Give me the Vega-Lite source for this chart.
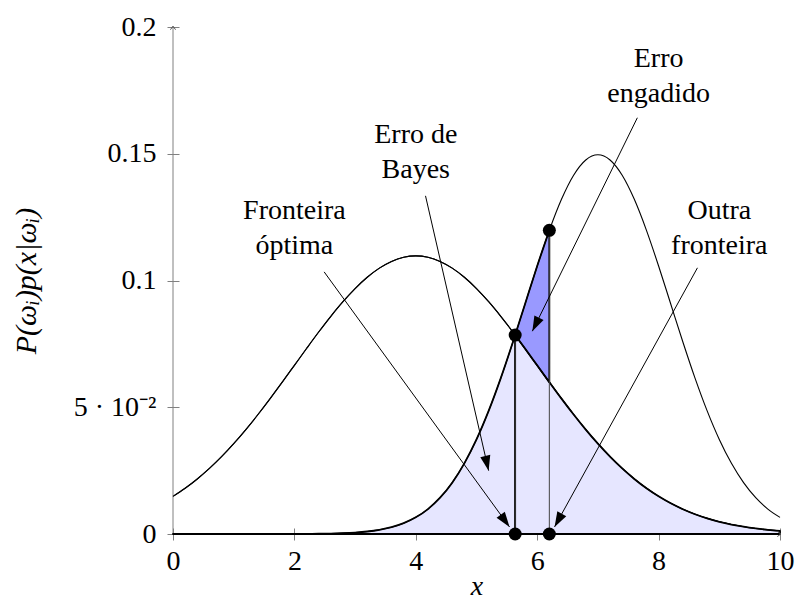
{
  "$schema": "https://vega.github.io/schema/vega-lite/v6.json",
  "width": 607,
  "height": 507,
  "autosize": {"type": "none"},
  "padding": {"left": 173, "top": 27, "right": 15, "bottom": 67},
  "background": "white",
  "config": {
    "view": {"stroke": null},
    "axis": {
      "labelFont": "Liberation Serif",
      "labelFontSize": 28,
      "labelColor": "black",
      "titleFont": "Liberation Serif",
      "titleFontSize": 28,
      "titleFontWeight": "normal",
      "titleFontStyle": "italic",
      "titleColor": "black",
      "tickColor": "#808080",
      "tickSize": 12,
      "tickWidth": 1,
      "domain": false,
      "grid": false,
      "offset": -6,
      "labelOverlap": false,
      "labelFlush": false,
      "labelBound": false
    }
  },
  "datasets": {
    "curves": [
      {"x": 0, "f1": 0.01485, "f2": 0},
      {"x": 0.2, "f1": 0.01804, "f2": 0},
      {"x": 0.4, "f1": 0.02171, "f2": 0},
      {"x": 0.6, "f1": 0.02586, "f2": 0},
      {"x": 0.8, "f1": 0.0305, "f2": 0},
      {"x": 1.0, "f1": 0.03562, "f2": 0},
      {"x": 1.2, "f1": 0.04118, "f2": 0},
      {"x": 1.4, "f1": 0.04713, "f2": 0},
      {"x": 1.6, "f1": 0.0534, "f2": 0.000003},
      {"x": 1.8, "f1": 0.05991, "f2": 0.00001},
      {"x": 2.0, "f1": 0.06654, "f2": 0.00003},
      {"x": 2.2, "f1": 0.07317, "f2": 0.00005},
      {"x": 2.4, "f1": 0.07967, "f2": 0.0001},
      {"x": 2.6, "f1": 0.08587, "f2": 0.00018},
      {"x": 2.8, "f1": 0.09164, "f2": 0.00033},
      {"x": 3.0, "f1": 0.09682, "f2": 0.00058},
      {"x": 3.2, "f1": 0.10128, "f2": 0.00099},
      {"x": 3.4, "f1": 0.10488, "f2": 0.00166},
      {"x": 3.6, "f1": 0.10754, "f2": 0.0027},
      {"x": 3.8, "f1": 0.10916, "f2": 0.00427},
      {"x": 4.0, "f1": 0.10971, "f2": 0.00657},
      {"x": 4.2, "f1": 0.10916, "f2": 0.00983},
      {"x": 4.4, "f1": 0.10754, "f2": 0.01431},
      {"x": 4.6, "f1": 0.10488, "f2": 0.02025},
      {"x": 4.8, "f1": 0.10128, "f2": 0.02787},
      {"x": 5.0, "f1": 0.09682, "f2": 0.0373},
      {"x": 5.2, "f1": 0.09164, "f2": 0.04857},
      {"x": 5.4, "f1": 0.08587, "f2": 0.0615},
      {"x": 5.6, "f1": 0.07967, "f2": 0.07575},
      {"x": 5.637, "f1": 0.07848, "f2": 0.07849},
      {"x": 5.8, "f1": 0.07317, "f2": 0.09074},
      {"x": 6.0, "f1": 0.06654, "f2": 0.10571},
      {"x": 6.2, "f1": 0.05991, "f2": 0.11979},
      {"x": 6.4, "f1": 0.0534, "f2": 0.13202},
      {"x": 6.6, "f1": 0.04713, "f2": 0.14152},
      {"x": 6.8, "f1": 0.04118, "f2": 0.14754},
      {"x": 7.0, "f1": 0.03562, "f2": 0.1496},
      {"x": 7.2, "f1": 0.0305, "f2": 0.14754},
      {"x": 7.4, "f1": 0.02586, "f2": 0.14152},
      {"x": 7.6, "f1": 0.02171, "f2": 0.13202},
      {"x": 7.8, "f1": 0.01804, "f2": 0.11979},
      {"x": 8.0, "f1": 0.01485, "f2": 0.10571},
      {"x": 8.2, "f1": 0.0121, "f2": 0.09074},
      {"x": 8.4, "f1": 0.00976, "f2": 0.07575},
      {"x": 8.6, "f1": 0.00779, "f2": 0.0615},
      {"x": 8.8, "f1": 0.00616, "f2": 0.04857},
      {"x": 9.0, "f1": 0.00482, "f2": 0.0373},
      {"x": 9.2, "f1": 0.00374, "f2": 0.02787},
      {"x": 9.4, "f1": 0.00287, "f2": 0.02025},
      {"x": 9.6, "f1": 0.00218, "f2": 0.01431},
      {"x": 9.8, "f1": 0.00164, "f2": 0.00983},
      {"x": 10.0, "f1": 0.00122, "f2": 0.00657}
    ],
    "frame": [
      {"axis": "y", "x0": 0, "y0": 0, "x1": 0, "y1": 0.2},
      {"axis": "x", "x0": 0, "y0": 0, "x1": 10, "y1": 0}
    ],
    "bounds": [
      {"x": 5.637, "bottom": 0, "top": 0.07848},
      {"x": 6.2, "bottom": 0, "top": 0.11979}
    ],
    "notes": [
      {"label": "Fronteira\nóptima", "tx": 2, "ty": 0.12, "x0": 2.49, "y0": 0.1034, "x1": 5.544, "y1": 0.0028},
      {"label": "Erro de\nBayes", "tx": 4, "ty": 0.15, "x0": 4.16, "y0": 0.1334, "x1": 5.2, "y1": 0.025},
      {"label": "Erro\nengadido", "tx": 8, "ty": 0.18, "x0": 7.65, "y0": 0.1642, "x1": 5.92, "y1": 0.08},
      {"label": "Outra\nfronteira", "tx": 9, "ty": 0.12, "x0": 8.64, "y0": 0.105, "x1": 6.286, "y1": 0.0028}
    ]
  },
  "layer": [
    {
      "data": {"name": "curves"},
      "mark": {"type": "line", "color": "black", "strokeWidth": 1.1, "interpolate": "monotone"},
      "encoding": {
        "x": {
          "field": "x", "type": "quantitative",
          "scale": {"domain": [0, 10], "nice": false, "zero": false},
          "axis": {"values": [0, 2, 4, 6, 8, 10], "format": "d", "labelPadding": 7, "title": "x", "titlePadding": -3}
        },
        "y": {
          "field": "f1", "type": "quantitative",
          "scale": {"domain": [0, 0.2], "nice": false},
          "axis": {
            "values": [0, 0.05, 0.1, 0.15, 0.2],
            "labelExpr": "datum.value == 0.05 ? '5 · 10⁻²' : format(datum.value, '~g')",
            "labelPadding": 11,
            "title": "P(ωᵢ)p(x|ωᵢ)",
            "titleFontSize": 30,
            "titlePadding": 32
          }
        }
      }
    },
    {
      "data": {"name": "frame"},
      "mark": {"type": "rule", "color": "#808080", "strokeWidth": 1},
      "encoding": {
        "x": {"field": "x0", "type": "quantitative", "scale": {"domain": [0, 10], "nice": false, "zero": false}},
        "y": {"field": "y0", "type": "quantitative", "scale": {"domain": [0, 0.2], "nice": false}},
        "x2": {"field": "x1"},
        "y2": {"field": "y1"}
      }
    },
    {
      "data": {"name": "curves"},
      "transform": [{"filter": "datum.x <= 5.637"}],
      "mark": {"type": "area", "fill": "#e6e6ff", "stroke": "black", "strokeWidth": 1.8, "strokeJoin": "round", "interpolate": "monotone"},
      "encoding": {
        "x": {"field": "x", "type": "quantitative", "scale": {"domain": [0, 10], "nice": false, "zero": false}},
        "y": {"field": "f2", "type": "quantitative", "scale": {"domain": [0, 0.2], "nice": false}}
      }
    },
    {
      "data": {"name": "curves"},
      "transform": [{"filter": "datum.x >= 5.637"}],
      "mark": {"type": "area", "fill": "#e6e6ff", "stroke": "black", "strokeWidth": 1.8, "strokeJoin": "round", "interpolate": "monotone"},
      "encoding": {
        "x": {"field": "x", "type": "quantitative", "scale": {"domain": [0, 10], "nice": false, "zero": false}},
        "y": {"field": "f1", "type": "quantitative", "scale": {"domain": [0, 0.2], "nice": false}}
      }
    },
    {
      "data": {"name": "curves"},
      "transform": [{"filter": "datum.x >= 5.637 && datum.x <= 6.2"}],
      "mark": {"type": "area", "fill": "#9999ff", "stroke": "black", "strokeWidth": 1.8, "strokeJoin": "round", "interpolate": "monotone"},
      "encoding": {
        "x": {"field": "x", "type": "quantitative", "scale": {"domain": [0, 10], "nice": false, "zero": false}},
        "y": {"field": "f2", "type": "quantitative", "scale": {"domain": [0, 0.2], "nice": false}},
        "y2": {"field": "f1"}
      }
    },
    {
      "data": {"name": "curves"},
      "mark": {"type": "line", "color": "black", "strokeWidth": 1.1, "interpolate": "monotone"},
      "encoding": {
        "x": {"field": "x", "type": "quantitative", "scale": {"domain": [0, 10], "nice": false, "zero": false}},
        "y": {"field": "f1", "type": "quantitative", "scale": {"domain": [0, 0.2], "nice": false}}
      }
    },
    {
      "data": {"name": "curves"},
      "mark": {"type": "line", "color": "black", "strokeWidth": 1.1, "interpolate": "monotone"},
      "encoding": {
        "x": {"field": "x", "type": "quantitative", "scale": {"domain": [0, 10], "nice": false, "zero": false}},
        "y": {"field": "f2", "type": "quantitative", "scale": {"domain": [0, 0.2], "nice": false}}
      }
    },
    {
      "data": {"name": "bounds"},
      "mark": {"type": "rule", "color": "#444444", "strokeWidth": 1},
      "encoding": {
        "x": {"field": "x", "type": "quantitative", "scale": {"domain": [0, 10], "nice": false, "zero": false}},
        "y": {"field": "bottom", "type": "quantitative", "scale": {"domain": [0, 0.2], "nice": false}},
        "y2": {"field": "top"}
      }
    },
    {
      "data": {"name": "notes"},
      "mark": {"type": "rule", "color": "black", "strokeWidth": 1},
      "encoding": {
        "x": {"field": "x0", "type": "quantitative", "scale": {"domain": [0, 10], "nice": false, "zero": false}},
        "y": {"field": "y0", "type": "quantitative", "scale": {"domain": [0, 0.2], "nice": false}},
        "x2": {"field": "x1"},
        "y2": {"field": "y1"}
      }
    },
    {
      "data": {"name": "notes"},
      "transform": [
        {"calculate": "atan2((datum.x1 - datum.x0) * 60.7, (datum.y1 - datum.y0) * 2535) * 180 / PI", "as": "heading"}
      ],
      "mark": {"type": "point", "shape": "M0,0 L0.68,2 L-0.68,2 Z", "filled": true, "color": "black", "opacity": 1, "size": 225, "strokeWidth": 0},
      "encoding": {
        "x": {"field": "x1", "type": "quantitative", "scale": {"domain": [0, 10], "nice": false, "zero": false}},
        "y": {"field": "y1", "type": "quantitative", "scale": {"domain": [0, 0.2], "nice": false}},
        "angle": {"field": "heading", "type": "quantitative", "scale": null}
      }
    },
    {
      "data": {"name": "bounds"},
      "mark": {"type": "point", "shape": "circle", "filled": true, "color": "black", "opacity": 1, "size": 169},
      "encoding": {
        "x": {"field": "x", "type": "quantitative", "scale": {"domain": [0, 10], "nice": false, "zero": false}},
        "y": {"field": "bottom", "type": "quantitative", "scale": {"domain": [0, 0.2], "nice": false}}
      }
    },
    {
      "data": {"name": "bounds"},
      "mark": {"type": "point", "shape": "circle", "filled": true, "color": "black", "opacity": 1, "size": 169},
      "encoding": {
        "x": {"field": "x", "type": "quantitative", "scale": {"domain": [0, 10], "nice": false, "zero": false}},
        "y": {"field": "top", "type": "quantitative", "scale": {"domain": [0, 0.2], "nice": false}}
      }
    },
    {
      "data": {"name": "frame"},
      "transform": [
        {"calculate": "atan2((datum.x1 - datum.x0) * 60.7, (datum.y1 - datum.y0) * 2535) * 180 / PI", "as": "heading"}
      ],
      "mark": {"type": "point", "shape": "M-0.85,0.9 L0,-0.3 L0.85,0.9", "filled": false, "stroke": "#555555", "strokeWidth": 1, "opacity": 1, "size": 36},
      "encoding": {
        "x": {"field": "x1", "type": "quantitative", "scale": {"domain": [0, 10], "nice": false, "zero": false}},
        "y": {"field": "y1", "type": "quantitative", "scale": {"domain": [0, 0.2], "nice": false}},
        "angle": {"field": "heading", "type": "quantitative", "scale": null}
      }
    },
    {
      "data": {"name": "notes"},
      "mark": {"type": "text", "font": "Liberation Serif", "fontSize": 28, "lineHeight": 35, "lineBreak": "\n", "align": "center", "baseline": "middle", "dy": -19, "color": "black"},
      "encoding": {
        "x": {"field": "tx", "type": "quantitative", "scale": {"domain": [0, 10], "nice": false, "zero": false}},
        "y": {"field": "ty", "type": "quantitative", "scale": {"domain": [0, 0.2], "nice": false}},
        "text": {"field": "label"}
      }
    }
  ]
}
